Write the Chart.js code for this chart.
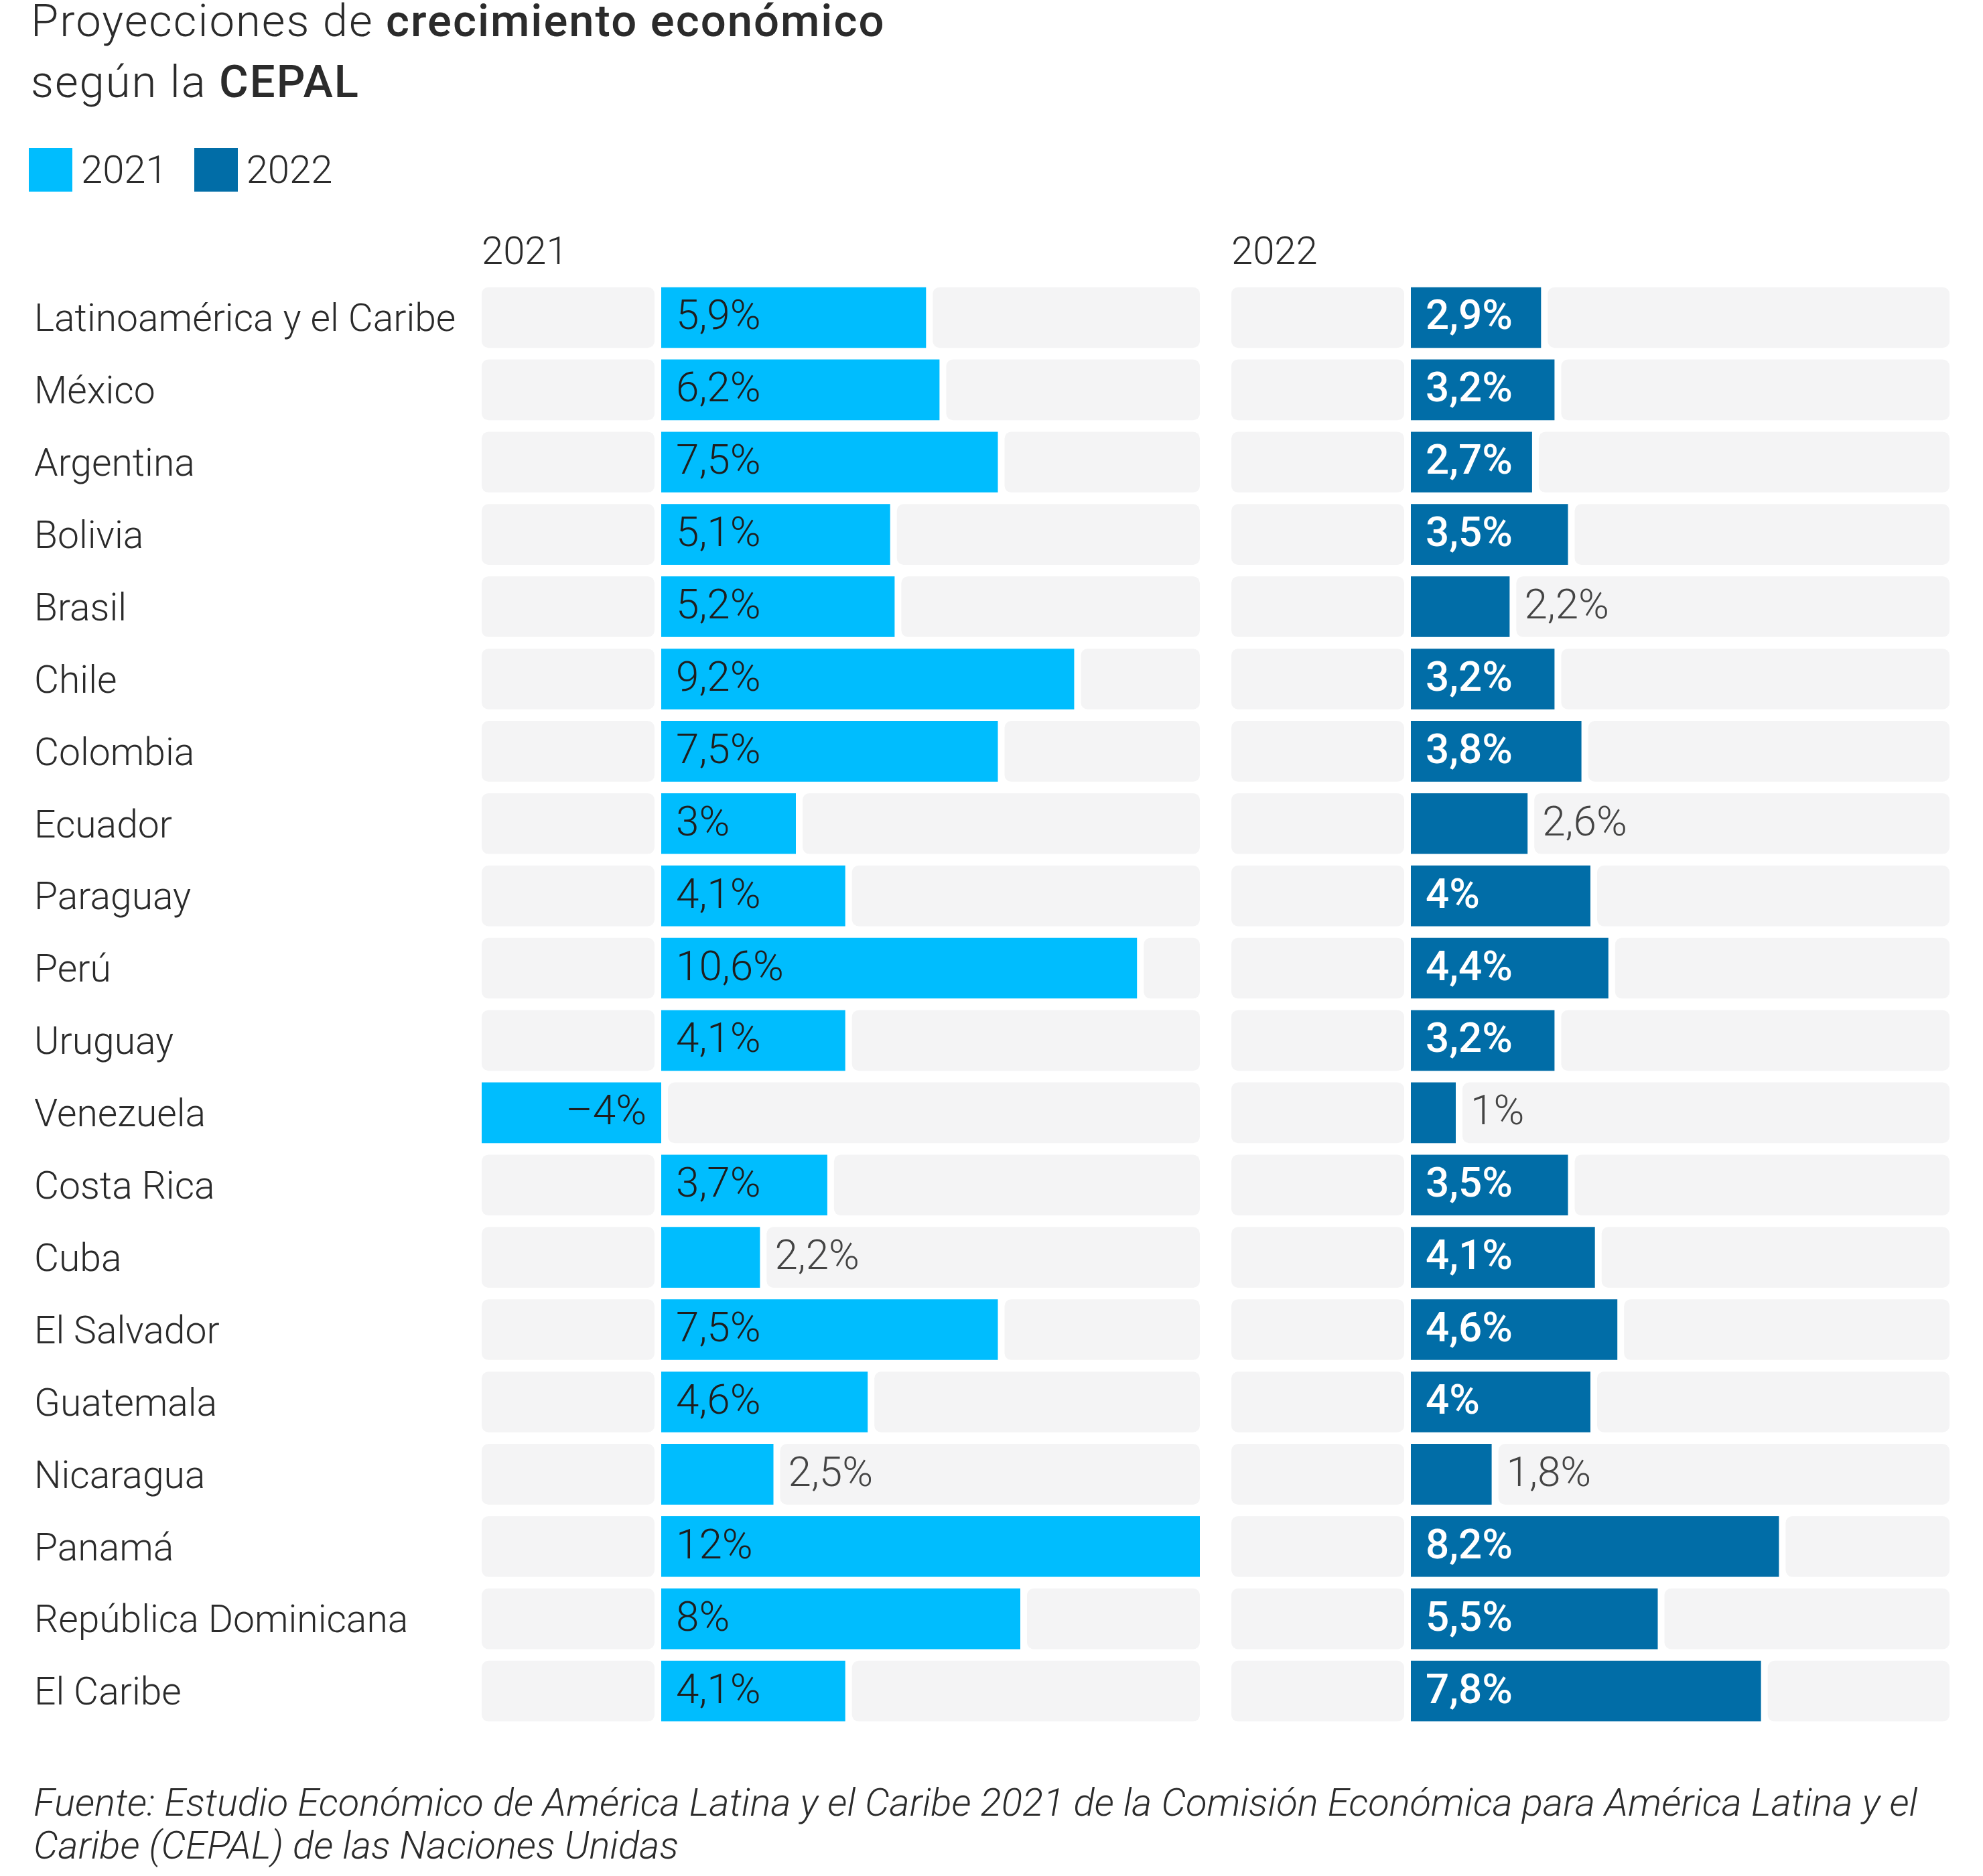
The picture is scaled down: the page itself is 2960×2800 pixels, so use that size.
<!DOCTYPE html>
<html lang="es">
<head>
<meta charset="utf-8">
<script src="https://cdn.jsdelivr.net/npm/chart.js@4.4.0/dist/chart.umd.min.js"></script>
<style>
  html, body { margin: 0; padding: 0; background: #fff; }
  body { width: 2960px; height: 2800px; position: relative; overflow: hidden;
         font-family: Roboto, "Noto Sans", sans-serif; color: #2b2b2b; }
  .titulo { position: absolute; left: 46px; top: -14px; font-size: 67px; font-weight: 300; line-height: 91px; letter-spacing: 2px; }
  .titulo b { font-weight: 500; }
  .leyenda { position: absolute; left: 43px; top: 221px; font-size: 58px; font-weight: 300; line-height: 65px; }
  .leyenda span { display: inline-block; vertical-align: top; }
  .leyenda .caja { width: 65px; height: 65px; margin-right: 13px; }
  .leyenda .txt { margin-right: 40px; }
  .panel { position: absolute; top: 337px; font-size: 58px; font-weight: 300; line-height: 74px; }
  .fuente { position: absolute; left: 50px; top: 2658px; font-size: 58px; font-weight: 300; font-style: italic; line-height: 64px; }
  canvas { position: absolute; top: 420px; }
</style>
</head>
<body>
<div class="titulo">Proyecciones de <b>crecimiento económico</b><br>según la <b>CEPAL</b></div>
<div class="leyenda">
  <span class="caja" style="background:#00bdfe"></span><span class="txt">2021</span><span class="caja" style="background:#016da7"></span><span class="txt">2022</span>
</div>
<div class="panel" style="left:719px">2021</div>
<div class="panel" style="left:1838px">2022</div>
<canvas id="chart2021" width="1800" height="2158" style="left:0"></canvas>
<canvas id="chart2022" width="1072" height="2158" style="left:1838px"></canvas>
<div class="fuente">Fuente: Estudio Económico de América Latina y el Caribe 2021 de la Comisión Económica para América Latina y el<br>Caribe (CEPAL) de las Naciones Unidas</div>

<script>
const categorias = ['Latinoamérica y el Caribe', 'México', 'Argentina', 'Bolivia', 'Brasil', 'Chile', 'Colombia',
  'Ecuador', 'Paraguay', 'Perú', 'Uruguay', 'Venezuela', 'Costa Rica', 'Cuba', 'El Salvador', 'Guatemala',
  'Nicaragua', 'Panamá', 'República Dominicana', 'El Caribe'];
const crecimiento2021 = [5.9, 6.2, 7.5, 5.1, 5.2, 9.2, 7.5, 3, 4.1, 10.6, 4.1, -4, 3.7, 2.2, 7.5, 4.6, 2.5, 12, 8, 4.1];
const crecimiento2022 = [2.9, 3.2, 2.7, 3.5, 2.2, 3.2, 3.8, 2.6, 4, 4.4, 3.2, 1, 3.5, 4.1, 4.6, 4, 1.8, 8.2, 5.5, 7.8];
const ejeMin = -4;
const ejeMax = 12;

const formato = v => (v < 0 ? '–' : '') + String(Math.abs(v)).replace('.', ',') + '%';

// fondo gris de cada fila, partido alrededor de la barra
const fondoFilas = {
  id: 'fondoFilas',
  beforeDatasetsDraw(chart) {
    const ctx = chart.ctx;
    const x = chart.scales.x;
    const izq = x.getPixelForValue(x.min);
    const der = x.getPixelForValue(x.max);
    const hueco = 10;
    ctx.save();
    ctx.fillStyle = '#f4f4f5';
    chart.getDatasetMeta(0).data.forEach(bar => {
      const p = bar.getProps(['x', 'y', 'base', 'height'], true);
      const lo = Math.min(p.x, p.base), hi = Math.max(p.x, p.base);
      const top = p.y - p.height / 2;
      [[izq, lo - hueco], [hi + hueco, der]].forEach(([a, b]) => {
        if (b - a > 2) {
          ctx.beginPath();
          ctx.roundRect(a, top, b - a, p.height, 10);
          ctx.fill();
        }
      });
    });
    ctx.restore();
  }
};

// etiquetas de valor
const etiquetas = {
  id: 'etiquetas',
  afterDatasetsDraw(chart, args, opts) {
    const ctx = chart.ctx;
    const valores = chart.data.datasets[0].data;
    ctx.save();
    ctx.textBaseline = 'middle';
    chart.getDatasetMeta(0).data.forEach((bar, i) => {
      const v = valores[i];
      const p = bar.getProps(['x', 'y', 'base'], true);
      const dentro = Math.abs(v) >= 2.7;
      const pad = 22;
      if (dentro) {
        ctx.fillStyle = opts.colorDentro;
        ctx.font = opts.pesoDentro + ' 62px Roboto';
        if (v < 0) { ctx.textAlign = 'right'; ctx.fillText(formato(v), p.base - pad, p.y + 2); }
        else { ctx.textAlign = 'left'; ctx.fillText(formato(v), p.base + pad, p.y + 2); }
      } else {
        ctx.fillStyle = '#444';
        ctx.font = '300 62px Roboto';
        ctx.textAlign = 'left';
        ctx.fillText(formato(v), p.x + pad, p.y + 2);
      }
    });
    ctx.restore();
  }
};

const opcionesBase = (conEtiquetas, colorDentro, pesoDentro, izquierda, derecha) => ({
  indexAxis: 'y',
  responsive: false,
  animation: false,
  devicePixelRatio: 1,
  layout: { padding: { left: izquierda, right: derecha, top: 0, bottom: 0 } },
  plugins: {
    legend: { display: false },
    tooltip: { enabled: false },
    etiquetas: { colorDentro: colorDentro, pesoDentro: pesoDentro }
  },
  scales: {
    x: { min: ejeMin, max: ejeMax, display: false, grid: { display: false } },
    y: {
      display: conEtiquetas,
      grid: { display: false },
      border: { display: false },
      ticks: {
        crossAlign: 'far',
        color: '#2b2b2b',
        padding: 0,
        labelOffset: 6,
        font: { family: 'Roboto', size: 57, weight: 300 }
      },
      afterFit: s => {
        if (conEtiquetas) s.width = 719 - izquierda;
        s.paddingTop = 0;
        s.paddingBottom = 0;
      }
    }
  }
});

new Chart(document.getElementById('chart2021'), {
  type: 'bar',
  data: {
    labels: categorias,
    datasets: [{
      label: '2021',
      data: crecimiento2021,
      backgroundColor: '#00bdfe',
      categoryPercentage: 1,
      barPercentage: 0.84
    }]
  },
  options: opcionesBase(true, '#1e1e1e', '300', 51, 9),
  plugins: [fondoFilas, etiquetas]
});

new Chart(document.getElementById('chart2022'), {
  type: 'bar',
  data: {
    labels: categorias,
    datasets: [{
      label: '2022',
      data: crecimiento2022,
      backgroundColor: '#016da7',
      categoryPercentage: 1,
      barPercentage: 0.84
    }]
  },
  options: opcionesBase(false, '#ffffff', '500', 0, 0),
  plugins: [fondoFilas, etiquetas]
});
</script>
</body>
</html>
